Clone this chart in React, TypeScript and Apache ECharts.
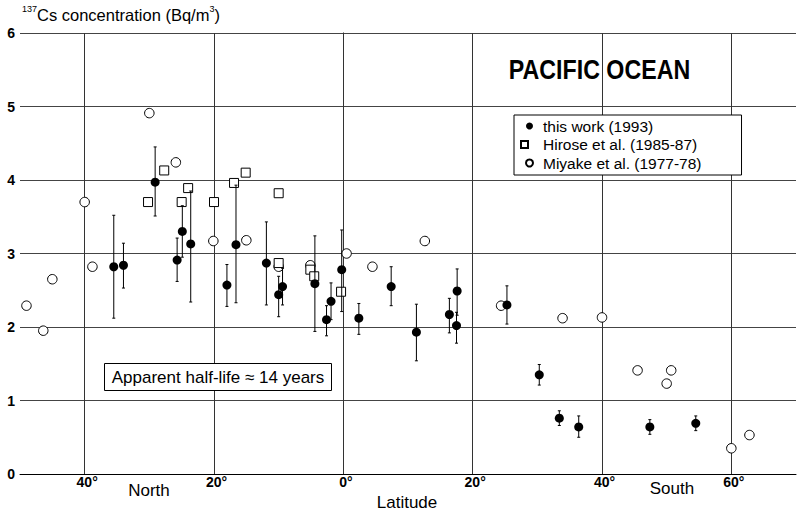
import React, { useEffect, useRef } from 'react';
import * as echarts from 'echarts';

// Latitude: North negative, South positive
const thisWorkLat = [-35.5, -34.0, -29.1, -25.7, -24.9, -23.6, -18.0, -16.6, -11.9, -10.0, -9.4, -4.4, -2.6, -1.9, -0.25, 2.4, 7.4, 11.3, 16.4, 17.6, 17.5, 25.3, 30.3, 33.4, 36.4, 47.4, 54.5];
const thisWorkConc = [2.82, 2.84, 3.97, 2.91, 3.30, 3.13, 2.57, 3.12, 2.87, 2.44, 2.55, 2.59, 2.10, 2.35, 2.78, 2.12, 2.55, 1.93, 2.17, 2.49, 2.02, 2.30, 1.35, 0.76, 0.64, 0.64, 0.69];
const thisWorkLow = [2.12, 2.53, 3.51, 2.62, 2.95, 2.34, 2.28, 2.33, 2.30, 2.14, 2.30, 1.94, 1.88, 2.10, 2.21, 1.90, 2.29, 1.54, 1.92, 2.16, 1.78, 2.04, 1.21, 0.66, 0.50, 0.54, 0.59];
const thisWorkHigh = [3.52, 3.14, 4.45, 3.21, 3.65, 3.85, 2.85, 3.93, 3.43, 2.69, 2.80, 3.24, 2.29, 2.60, 3.32, 2.32, 2.82, 2.31, 2.39, 2.79, 2.20, 2.56, 1.49, 0.86, 0.79, 0.74, 0.79];

const hiroseLat = [-30.2, -27.7, -25.0, -24.0, -20.0, -16.9, -15.1, -10.0, -10.0, -5.1, -4.5, -0.35];
const hiroseConc = [3.70, 4.13, 3.70, 3.89, 3.70, 3.96, 4.10, 3.82, 2.87, 2.78, 2.69, 2.48];

const miyakeLat = [-49.0, -46.4, -45.0, -40.0, -38.8, -30.0, -25.9, -20.1, -15.0, -10.0, -5.1, 0.5, 4.5, 12.6, 24.4, 33.9, 40.0, 45.5, 50.7, 50.0, 60.0, 62.8];
const miyakeConc = [2.29, 1.95, 2.65, 3.70, 2.82, 4.91, 4.24, 3.17, 3.18, 2.82, 2.84, 3.00, 2.82, 3.17, 2.29, 2.12, 2.13, 1.41, 1.41, 1.23, 0.35, 0.53];

const xGridLines = [-40, -20, 0, 20, 40, 60];
const seriesNames = ['this work (1993)', 'Hirose et al. (1985-87)', 'Miyake et al. (1977-78)'];

const FONT = '"Liberation Sans", Arial, Helvetica, sans-serif';

export default function App() {
  const ref = useRef<HTMLDivElement>(null);
  useEffect(() => {
    const chart = echarts.init(ref.current!, null, { renderer: 'svg' });
    const option: any = {
      animation: false,
      backgroundColor: '#fff',
      textStyle: { fontFamily: FONT, color: '#000' },
      grid: { left: 20, right: 0, top: 33, bottom: 40, containLabel: false },
      xAxis: {
        type: 'value',
        min: -50,
        max: 70,
        interval: 10,
        axisLine: { show: true, lineStyle: { color: '#000', width: 1 } },
        axisTick: { show: false },
        splitLine: { show: false },
        axisLabel: {
          margin: 1,
          fontSize: 14,
          fontWeight: 'bold',
          color: '#000',
          fontFamily: FONT,
          padding: [0, 0, 0, 5],
          formatter: (v: number) => (v % 20 === 0 && v >= -40 && v <= 60 ? Math.abs(v) + '°' : ''),
        },
      },
      yAxis: {
        type: 'value',
        min: 0,
        max: 6,
        interval: 1,
        axisLine: { show: true, lineStyle: { color: '#000', width: 1 } },
        axisTick: { show: false },
        splitLine: { show: true, lineStyle: { color: '#444', width: 1 } },
        axisLabel: { margin: 5, fontSize: 14, fontWeight: 'bold', color: '#000', fontFamily: FONT },
      },
      legend: {
        data: [
          { name: seriesNames[0], icon: 'circle' },
          { name: seriesNames[1], icon: 'square' },
          { name: seriesNames[2], icon: 'circle' },
        ],
        orient: 'vertical',
        left: 514,
        top: 115,
        z: 20,
        backgroundColor: '#fff',
        borderColor: '#000',
        borderWidth: 1,
        borderRadius: 0,
        padding: [3, 40, 4, 6],
        itemGap: 2.5,
        itemWidth: 17,
        itemHeight: 7,
        selectedMode: false,
        textStyle: { fontSize: 15.5, color: '#000', fontFamily: FONT },
      },
      series: [
        {
          name: seriesNames[2],
          type: 'scatter',
          z: 10,
          symbol: 'circle',
          symbolSize: 9.5,
          itemStyle: { color: '#fff', borderColor: '#000', borderWidth: 1, opacity: 1 },
          data: miyakeLat.map((x, i) => [x, miyakeConc[i]]),
          markLine: {
            silent: true,
            symbol: 'none',
            label: { show: false },
            lineStyle: { color: '#333', width: 1, type: 'solid' },
            data: xGridLines.map((v) => ({ xAxis: v })),
          },
        },
        {
          name: seriesNames[1],
          type: 'scatter',
          z: 11,
          symbol: 'rect',
          symbolSize: 9,
          itemStyle: { color: '#fff', borderColor: '#000', borderWidth: 1, opacity: 1 },
          data: hiroseLat.map((x, i) => [x, hiroseConc[i]]),
        },
        {
          name: 'errorbars',
          type: 'custom',
          z: 12,
          silent: true,
          encode: { x: 0, y: [1, 2] },
          data: thisWorkLat.map((x, i) => [x, thisWorkLow[i], thisWorkHigh[i]]),
          renderItem: (params: any, api: any) => {
            const x = api.value(0);
            const lo = api.coord([x, api.value(1)]);
            const hi = api.coord([x, api.value(2)]);
            const st = { stroke: '#000', lineWidth: 1 };
            return {
              type: 'group',
              children: [
                { type: 'line', shape: { x1: hi[0], y1: hi[1], x2: lo[0], y2: lo[1] }, style: st },
                { type: 'line', shape: { x1: hi[0] - 1.5, y1: hi[1], x2: hi[0] + 1.5, y2: hi[1] }, style: st },
                { type: 'line', shape: { x1: lo[0] - 1.5, y1: lo[1], x2: lo[0] + 1.5, y2: lo[1] }, style: st },
              ],
            };
          },
        },
        {
          name: seriesNames[0],
          type: 'scatter',
          z: 13,
          symbol: 'circle',
          symbolSize: 9,
          itemStyle: { color: '#000', opacity: 1 },
          data: thisWorkLat.map((x, i) => [x, thisWorkConc[i]]),
        },
      ],
      graphic: [
        {
          type: 'text',
          z: 100,
          x: 22,
          y: 4,
          style: {
            text: '{s|137}{n|Cs concentration (Bq/m}{s|3}{n|)}',
            fill: '#000',
            font: `16.5px ${FONT}`,
            rich: {
              s: { fontSize: 9, lineHeight: 17, verticalAlign: 'top', fontFamily: FONT, fill: '#000' },
              n: { fontSize: 16.5, lineHeight: 21, fontFamily: FONT, fill: '#000' },
            },
          },
        },
        {
          type: 'text',
          z: 100,
          x: 599.5,
          y: 69,
          scaleX: 0.86,
          style: {
            text: 'PACIFIC OCEAN',
            fill: '#000',
            font: `bold 27px ${FONT}`,
            align: 'center',
            verticalAlign: 'middle',
          },
        },
        {
          type: 'rect',
          z: 100,
          shape: { x: 104.5, y: 363.5, width: 227, height: 27 },
          style: { fill: '#fff', stroke: '#000', lineWidth: 1 },
        },
        {
          type: 'text',
          z: 101,
          x: 218,
          y: 377,
          style: {
            text: 'Apparent half-life ≈ 14 years',
            fill: '#000',
            font: `17px ${FONT}`,
            align: 'center',
            verticalAlign: 'middle',
          },
        },
        {
          type: 'text',
          z: 100,
          x: 149,
          y: 490,
          style: { text: 'North', fill: '#000', font: `17px ${FONT}`, align: 'center', verticalAlign: 'middle' },
        },
        {
          type: 'text',
          z: 100,
          x: 407,
          y: 502,
          style: { text: 'Latitude', fill: '#000', font: `17px ${FONT}`, align: 'center', verticalAlign: 'middle' },
        },
        {
          type: 'text',
          z: 100,
          x: 672,
          y: 488,
          style: { text: 'South', fill: '#000', font: `17px ${FONT}`, align: 'center', verticalAlign: 'middle' },
        },
      ],
    };
    chart.setOption(option);
    return () => chart.dispose();
  }, []);
  return (
    <div
      ref={ref}
      style={{ position: 'absolute', left: 0, top: 0, width: 799, height: 514, background: '#fff' }}
    />
  );
}
